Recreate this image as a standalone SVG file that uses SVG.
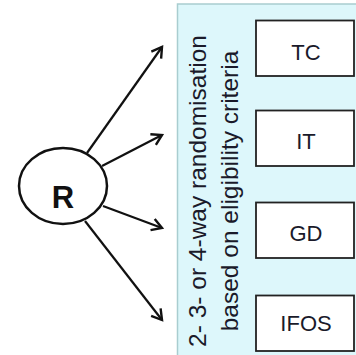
<svg xmlns="http://www.w3.org/2000/svg" width="356" height="355" viewBox="0 0 356 355">
<style>
.panel{fill:#ddf7fb;stroke:#a9cdd0;stroke-width:1.5}
.box{fill:#ffffff;stroke:#222222;stroke-width:1.8}
.lbl{font-family:"Liberation Sans",Arial,sans-serif;font-size:22px;fill:#1a1a2a;text-anchor:middle}
.vt{font-family:"Liberation Sans",Arial,sans-serif;font-size:24.5px;fill:#1a1a2a;text-anchor:middle}
.conn{stroke:#111111;stroke-width:2.2;fill:none;marker-end:url(#arr)}
</style>
<defs>
<marker id="arr" markerUnits="userSpaceOnUse" markerWidth="16" markerHeight="16" refX="11" refY="7" orient="auto">
<path d="M1,1 L11,7 L1,13" fill="none" stroke="#111111" stroke-width="2.4" stroke-linejoin="miter"/>
</marker>
</defs>
<rect class="panel" x="177.5" y="4" width="190" height="360"/>
<g id="vertical-label">
<text class="vt" transform="translate(206,191) rotate(-90)">2- 3- or 4-way randomisation</text>
<text class="vt" transform="translate(238,191) rotate(-90)">based on eligibility criteria</text>
</g>
<g id="connectors">
<line class="conn" x1="87" y1="153" x2="162" y2="47"/>
<line class="conn" x1="102" y1="166" x2="162" y2="135"/>
<line class="conn" x1="103" y1="206" x2="162" y2="228"/>
<line class="conn" x1="85" y1="221" x2="162" y2="320"/>
</g>
<g id="R">
<ellipse cx="63" cy="186" rx="44" ry="38" fill="#ffffff" stroke="#111111" stroke-width="2.5"/>
<text x="63" y="208" font-family="'Liberation Sans',Arial,sans-serif" font-size="31" font-weight="bold" fill="#111111" text-anchor="middle">R</text>
</g>
<g id="TC">
<rect class="box" x="256" y="20.5" width="98" height="55.5"/>
<text class="lbl" x="306" y="59.5">TC</text>
</g>
<g id="IT">
<rect class="box" x="256" y="110.5" width="98" height="55.5"/>
<text class="lbl" x="306" y="149">IT</text>
</g>
<g id="GD">
<rect class="box" x="256" y="202.5" width="98" height="55.5"/>
<text class="lbl" x="306" y="241">GD</text>
</g>
<g id="IFOS">
<rect class="box" x="256" y="295.5" width="98" height="55.5"/>
<text class="lbl" x="306" y="331">IFOS</text>
</g>
</svg>
